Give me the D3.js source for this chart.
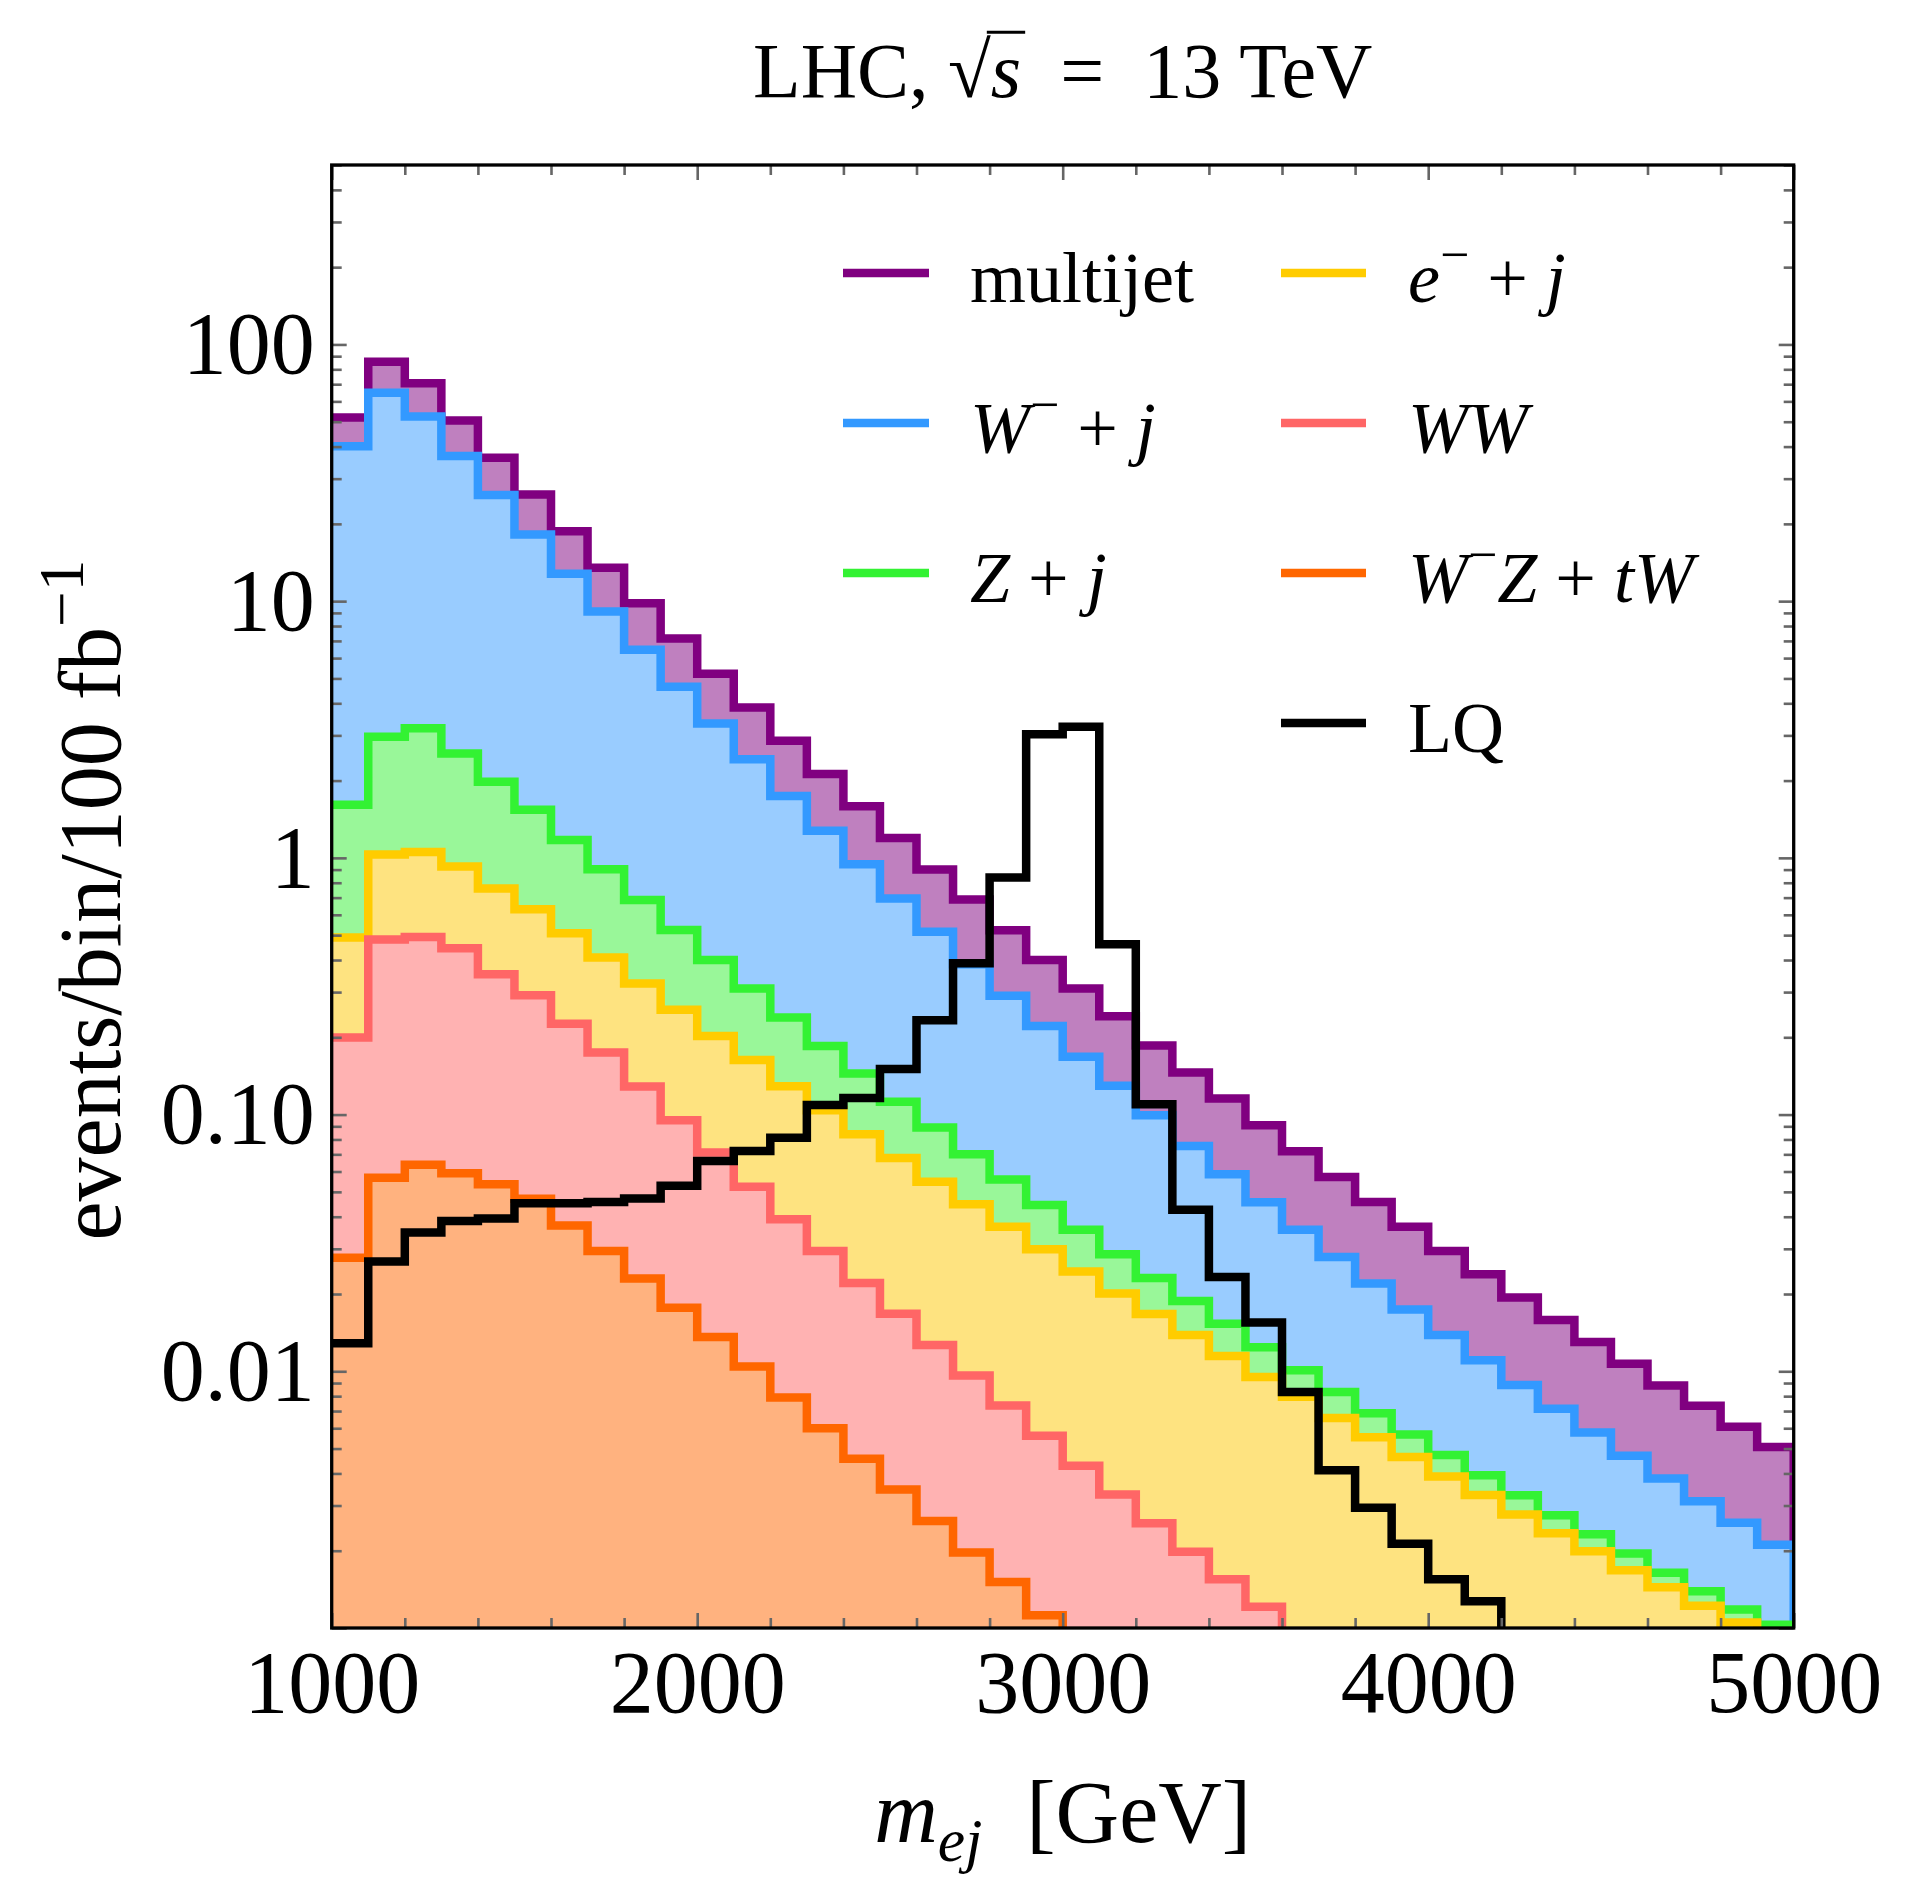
<!DOCTYPE html>
<html><head><meta charset="utf-8">
<script src="https://cdn.jsdelivr.net/npm/d3@7/dist/d3.min.js"></script>
<style>
body{margin:0;background:#fff}
svg text{font-family:"Liberation Serif","Times New Roman",serif;fill:#000;white-space:pre}
</style></head><body>
<svg id="chart" width="1915" height="1882"></svg>
<script>
// ---------------- data ----------------
const binLow = [1000,1100,1200,1300,1400,1500,1600,1700,1800,1900,
                2000,2100,2200,2300,2400,2500,2600,2700,2800,2900,
                3000,3100,3200,3300,3400,3500,3600,3700,3800,3900,
                4000,4100,4200,4300,4400,4500,4600,4700,4800,4900];
const binWidth = 100;

const multijet = [51.9,85.6,70.6,50.5,36.2,26.0,18.7,13.5,9.81,7.15,
                  5.22,3.85,2.86,2.12,1.589,1.196,0.90,0.688,0.522,0.40,
                  0.31,0.2415,0.186,0.146,0.1154,0.0908,0.0720,0.0571,0.0457,0.0366,
                  0.0294,0.0239,0.0194,0.01585,0.0130,0.0107,0.0088,0.00734,0.00608,0.00507];
const wPlusJet = [40.1,64.9,52.4,36.8,25.9,18.2,12.8,9.11,6.46,4.64,
                  3.34,2.42,1.74,1.274,0.944,0.694,0.515,0.385,0.29,0.2215,
                  0.168,0.1294,0.0994,0.0755,0.0586,0.0455,0.0356,0.0279,0.022,0.0174,
                  0.01384,0.01104,0.00884,0.00714,0.00577,0.00469,0.00382,0.00312,0.00257,0.00211];
const zPlusJet = [1.61,2.96,3.20,2.55,1.98,1.54,1.175,0.903,0.686,0.524,
                  0.40,0.31,0.239,0.185,0.1446,0.1123,0.089,0.070,0.0559,0.0444,
                  0.0356,0.0286,0.0231,0.0188,0.0153,0.0124,0.0101,0.00831,0.00687,0.00567,
                  0.00472,0.00394,0.00329,0.00275,0.00232,0.00195,0.00164,0.00139,0.00118,0.00103];
const ePlusJet = [0.489,1.03,1.055,0.925,0.759,0.63,0.508,0.409,0.324,0.256,
                  0.2025,0.163,0.129,0.104,0.0839,0.0678,0.0548,0.0447,0.0366,0.0299,
                  0.0245,0.0201,0.0167,0.01386,0.01148,0.0095,0.00795,0.00658,0.00554,0.00464,
                  0.00389,0.0033,0.00277,0.00234,0.00199,0.00168,0.00144,0.00122,0.00105,0.0009];
const wwPair   = [0.1995,0.481,0.492,0.445,0.352,0.2915,0.226,0.1744,0.1286,0.095,
                  0.0711,0.0524,0.0391,0.0294,0.0221,0.01677,0.01265,0.00964,0.00735,0.00561,
                  0.00429,0.00331,0.00256,0.00198,0.00155,0.00121,null,null,null,null,
                  null,null,null,null,null,null,null,null,null,null];
const wzPlusTw = [0.0277,0.0568,0.0637,0.0591,0.0535,0.047,0.037,0.0294,0.023,0.0177,
                  0.0136,0.01043,0.0079,0.006,0.00456,0.00346,0.00261,0.00197,0.00151,0.00112,
                  null,null,null,null,null,null,null,null,null,null,
                  null,null,null,null,null,null,null,null,null,null];
const lqSignal = [0.01285,0.0268,0.0347,0.0385,0.0394,0.0451,0.0451,0.0457,0.0471,0.0528,
                  0.066,0.0722,0.0813,0.109,0.116,0.1504,0.2332,0.389,0.838,3.03,
                  3.24,0.461,0.1097,0.0426,0.0233,0.0155,0.0083,0.00412,0.00294,0.00213,
                  0.00155,0.00127,null,null,null,null,null,null,null,null];

const yMajorTicks = [0.001,0.01,0.1,1,10,100];
const yLabelValues = [0.01,0.1,1,10,100];
const yLabelTexts = ["0.01","0.10","1","10","100"];
const xTickValues = [1000,1200,1400,1600,1800,2000,2200,2400,2600,2800,3000,
                     3200,3400,3600,3800,4000,4200,4400,4600,4800,5000];
const xLabelValues = [1000,2000,3000,4000,5000];

// ---------------- layout ----------------
const plot = {left:331.7, right:1793.7, top:165, bottom:1628};
const LW = 8.5;
const svg = d3.select("#chart");
const x = d3.scaleLinear().domain([1000,5000]).range([plot.left, plot.right]);
const y = d3.scaleLog().domain([0.001,500]).range([plot.bottom, plot.top]);

const backgrounds = [
  {values:multijet, line:"#800080", fill:"#bf80bf"},
  {values:wPlusJet, line:"#3399ff", fill:"#99ccff"},
  {values:zPlusJet, line:"#33f233", fill:"#99f799"},
  {values:ePlusJet, line:"#ffcc00", fill:"#fee380"},
  {values:wwPair,   line:"#ff6666", fill:"#ffb2b2"},
  {values:wzPlusTw, line:"#ff6600", fill:"#ffb27f"}
];

svg.append("defs").append("clipPath").attr("id","plotClip").append("rect")
  .attr("x",plot.left).attr("y",plot.top)
  .attr("width",plot.right-plot.left).attr("height",plot.bottom-plot.top);
const gPlot = svg.append("g").attr("clip-path","url(#plotClip)");

const yBelow = plot.bottom + 40;
function stepPoints(vals){
  const pts=[];
  vals.forEach((v,i)=>{
    if(v==null) return;
    const yy=y(v);
    pts.push([x(binLow[i]),yy],[x(binLow[i]+binWidth),yy]);
  });
  return pts;
}
function linePath(vals){
  const pts=stepPoints(vals);
  pts.push([pts[pts.length-1][0], yBelow]);
  return d3.line()(pts);
}
function areaPath(vals){
  const pts=stepPoints(vals);
  return d3.line()([[pts[0][0],yBelow],...pts,[pts[pts.length-1][0],yBelow]])+"Z";
}
backgrounds.forEach(s=>{
  gPlot.append("path").attr("d",areaPath(s.values)).attr("fill",s.fill);
  gPlot.append("path").attr("d",linePath(s.values)).attr("fill","none")
    .attr("stroke",s.line).attr("stroke-width",LW).attr("stroke-linejoin","miter");
});
gPlot.append("path").attr("d",linePath(lqSignal)).attr("fill","none")
  .attr("stroke","#000").attr("stroke-width",LW).attr("stroke-linejoin","miter");

// ---------------- axes ----------------
const yMinor = y.ticks().filter(t=>!yMajorTicks.some(m=>Math.abs(Math.log10(m)-Math.log10(t))<1e-6));
const xMajor = xTickValues.filter(v=>xLabelValues.includes(v));
const xMinor = xTickValues.filter(v=>!xLabelValues.includes(v));
const yFmt = d=>{const i=yLabelValues.findIndex(u=>Math.abs(Math.log10(u)-Math.log10(d))<1e-6);return i>=0?yLabelTexts[i]:"";};
const TF = 88;
function styleAxis(g){
  g.select(".domain").remove();
  g.selectAll("line").attr("stroke","#666").attr("stroke-width",2.6);
  g.attr("font-family",null).attr("font-size",TF);
  g.selectAll("text").attr("font-size",TF).attr("fill","#000");
}
const axes = [
  [d3.axisLeft(y).tickValues(yMajorTicks).tickSizeInner(-15).tickSizeOuter(0).tickPadding(17).tickFormat(yFmt), `translate(${plot.left},0)`],
  [d3.axisLeft(y).tickValues(yMinor).tickSizeInner(-10).tickSizeOuter(0).tickFormat(""), `translate(${plot.left},0)`],
  [d3.axisRight(y).tickValues(yMajorTicks).tickSizeInner(-15).tickSizeOuter(0).tickFormat(""), `translate(${plot.right},0)`],
  [d3.axisRight(y).tickValues(yMinor).tickSizeInner(-10).tickSizeOuter(0).tickFormat(""), `translate(${plot.right},0)`],
  [d3.axisBottom(x).tickValues(xMajor).tickSizeInner(-15).tickSizeOuter(0).tickPadding(22).tickFormat(d3.format("d")), `translate(0,${plot.bottom})`],
  [d3.axisBottom(x).tickValues(xMinor).tickSizeInner(-10).tickSizeOuter(0).tickFormat(""), `translate(0,${plot.bottom})`],
  [d3.axisTop(x).tickValues(xMajor).tickSizeInner(-15).tickSizeOuter(0).tickFormat(""), `translate(0,${plot.top})`],
  [d3.axisTop(x).tickValues(xMinor).tickSizeInner(-10).tickSizeOuter(0).tickFormat(""), `translate(0,${plot.top})`]
];
axes.forEach(([ax,tr])=>{ svg.append("g").attr("transform",tr).call(ax).call(styleAxis); });

svg.append("rect").attr("x",plot.left).attr("y",plot.top)
  .attr("width",plot.right-plot.left).attr("height",plot.bottom-plot.top)
  .attr("fill","none").attr("stroke","#000").attr("stroke-width",3.3);

// ---------------- rich text helper ----------------
function richText(parent, parts, fs, attrs){
  const t = parent.append("text").attr("font-size",fs);
  Object.entries(attrs||{}).forEach(([k,v])=>t.attr(k,v));
  let shift = 0;
  parts.forEach(([s,st])=>{
    const ts = t.append("tspan").text(s);
    let target = 0;
    if(st==="i"||st==="isub") ts.attr("font-style","italic");
    if(st==="sup"){ ts.attr("font-size",fs*0.72); target=-fs*0.42; }
    if(st==="isub"){ ts.attr("font-size",fs*0.7); target=fs*0.22; }
    if(target!==shift){ ts.attr("dy",target-shift); shift=target; }
  });
  return t;
}

// ---------------- legend ----------------
const legendLabels = [
  [["multijet","n"]],
  [["W","i"],["\u2212","sup"],[" + ","n"],["j","i"]],
  [["Z","i"],[" + ","n"],["j","i"]],
  [["e","i"],["\u2212","sup"],[" + ","n"],["j","i"]],
  [["WW","i"]],
  [["W","i"],["\u2212","sup"],["Z","i"],[" + ","n"],["tW","i"]],
  [["LQ","n"]]
];
const legendColors = ["#800080","#3399ff","#33f233","#ffcc00","#ff6666","#ff6600","#000000"];
const legendCols = [{lx0:843,lx1:929,tx:970},{lx0:1281,lx1:1366,tx:1408}];
const legendRowY = [273,423,573,723];
const legendPos = [[0,0],[0,1],[0,2],[1,0],[1,1],[1,2],[1,3]];
const gLeg = svg.append("g");
legendLabels.forEach((parts,i)=>{
  const c = legendCols[legendPos[i][0]], ry = legendRowY[legendPos[i][1]];
  gLeg.append("line").attr("x1",c.lx0).attr("x2",c.lx1).attr("y1",ry).attr("y2",ry)
    .attr("stroke",legendColors[i]).attr("stroke-width",LW);
  richText(gLeg, parts, 72, {x:c.tx, y:ry+29});
});

// ---------------- title ----------------
const cx = (plot.left+plot.right)/2;
const TY = 97, TFS = 78;
const title = richText(svg, [["LHC, ","n"],["\u221A","n"],["s","i"],["  =  13 TeV","n"]], TFS, {x:cx, y:TY, "text-anchor":"middle"});
{
  const s1 = title.node().getEndPositionOfChar(6);
  const r1 = title.node().getEndPositionOfChar(5);
  svg.append("line").attr("x1",r1.x-4).attr("x2",s1.x+4).attr("y1",TY-TFS*0.83).attr("y2",TY-TFS*0.83)
    .attr("stroke","#000").attr("stroke-width",3);
}

// ---------------- axis labels ----------------
richText(svg, [["m","i"],["ej","isub"],["  [GeV]","n"]], 88, {x:cx, y:1842, "text-anchor":"middle"});
const gY = svg.append("g").attr("transform","translate(120,900) rotate(-90)");
richText(gY, [["events/bin/100 fb","n"],["\u22121","sup"]], 88, {x:0, y:0, "text-anchor":"middle"});
</script>
</body></html>
